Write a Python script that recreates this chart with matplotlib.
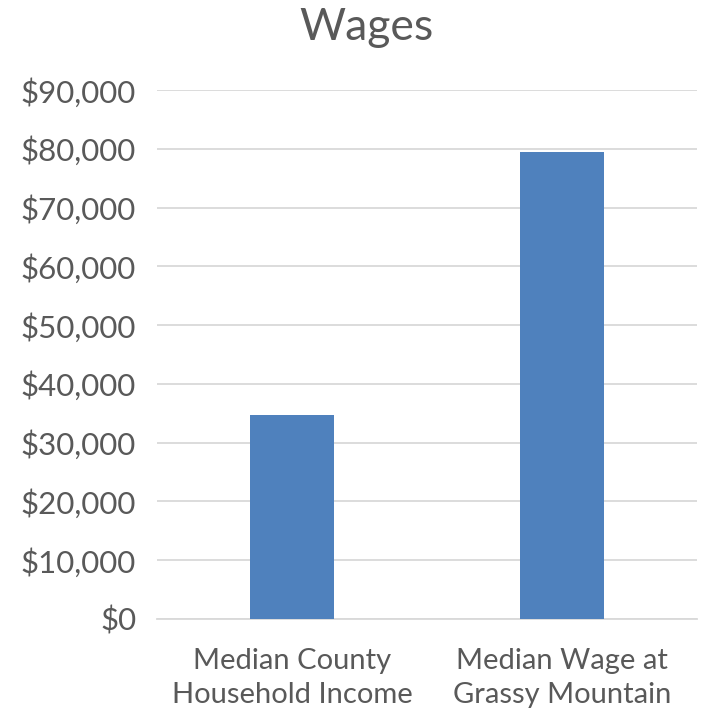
import matplotlib
matplotlib.use("Agg")
import matplotlib.pyplot as plt
from matplotlib.ticker import FuncFormatter

# Values
categories = ["Median County\nHousehold Income", "Median Wage at\nGrassy Mountain"]
wages = [34700, 79400]
y_ticks = [0, 10000, 20000, 30000, 40000, 50000, 60000, 70000, 80000, 90000]

plt.rcParams['font.family'] = ['Lato', 'DejaVu Sans']

fig = plt.figure(figsize=(7.03, 7.14), dpi=100)
ax = fig.add_axes([157/703, 1 - 619/714, 540/703, 529/714])

ax.bar(range(len(categories)), wages, width=0.31, color='#4f81bd', zorder=3)

ax.set_xlim(-0.5, len(categories) - 0.5)
ax.set_ylim(0, 90000)
ax.set_yticks(y_ticks)
ax.yaxis.set_major_formatter(FuncFormatter(lambda v, p: "${:,.0f}".format(v)))
ax.set_xticks(range(len(categories)))

ax.grid(axis='y', color='#d9d9d9', linewidth=1.3, zorder=0)
for s in ['top', 'right', 'left']:
    ax.spines[s].set_visible(False)
ax.spines['bottom'].set_color('#d9d9d9')
ax.spines['bottom'].set_linewidth(1.3)
ax.tick_params(axis='both', length=0, colors='#595959')
ax.tick_params(axis='y', pad=15, labelsize=22.5)
ax.tick_params(axis='x', pad=21)
ax.set_xticklabels(categories, fontsize=21, linespacing=1.35)

fig.text(366/703, 1 - 27/714, "Wages", ha='center', va='center', fontsize=32, color='#595959')

fig.savefig("out.png", dpi=100)
